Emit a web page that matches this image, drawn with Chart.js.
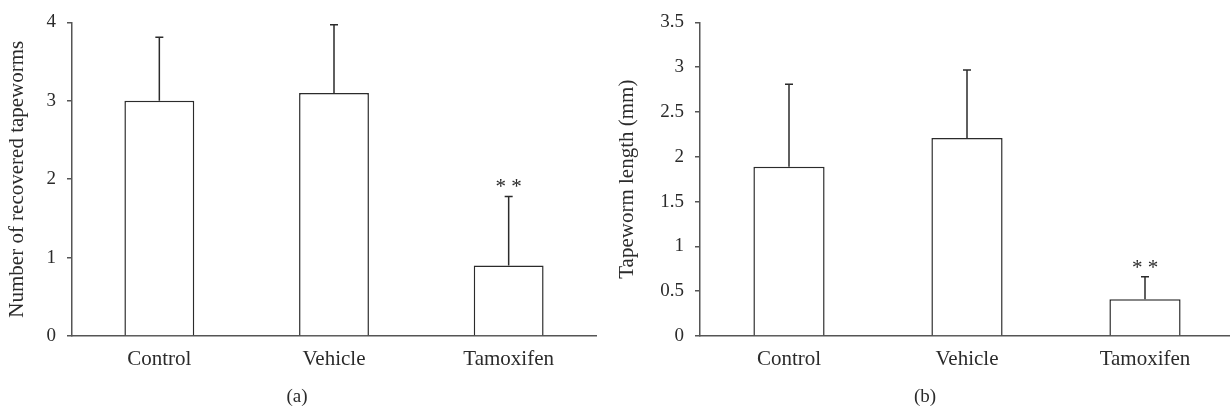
<!DOCTYPE html>
<html>
<head>
<meta charset="utf-8">
<script src="https://cdn.jsdelivr.net/npm/chart.js@4.4.1/dist/chart.umd.min.js"></script>
<style>
    html, body { margin: 0; padding: 0; background: #fff; overflow: hidden; width: 1230px; height: 410px; }
    canvas { position: absolute; top: 0; }
    #chartA { left: 0; }
    #chartB { left: 600px; }
    .caption { position: absolute; top: 385px; font: 19px 'Liberation Serif', serif; color: #2b2b2b; transform: translateX(-50%); }
</style>
</head>
<body>
<canvas id="chartA" width="600" height="410"></canvas>
<canvas id="chartB" width="640" height="410"></canvas>
<div class="caption" style="left:297px">(a)</div>
<div class="caption" style="left:925px">(b)</div>
<script>
// groups shared by both panels
const groups = ['Control', 'Vehicle', 'Tamoxifen'];

// (a) number of recovered tapeworms
const countMeans = [3.0, 3.1, 0.9];
const countSD = [0.81, 0.87, 0.88];
const countMarks = ['', '', '**'];

// (b) tapeworm length in mm
const lengthMeans = [1.89, 2.21, 0.41];
const lengthSD = [0.92, 0.76, 0.25];
const lengthMarks = ['', '', '**'];

const INK = '#2b2b2b';
const AXIS = '#555';
const FONT = "'Liberation Serif', 'Times New Roman', serif";

// draws upper error bars and significance marks over the bars
const errorBars = {
    id: 'errorBars',
    afterDatasetsDraw(chart, args, opts) {
        const { ctx, scales: { y } } = chart;
        const meta = chart.getDatasetMeta(0);
        ctx.save();
        ctx.strokeStyle = INK;
        ctx.lineWidth = 1.5;
        meta.data.forEach((bar, i) => {
            const top = y.getPixelForValue(opts.means[i] + opts.sd[i]);
            ctx.beginPath();
            ctx.moveTo(bar.x, bar.y);
            ctx.lineTo(bar.x, top);
            ctx.moveTo(bar.x - 4, top);
            ctx.lineTo(bar.x + 4, top);
            ctx.stroke();
            if (opts.marks[i]) {
                ctx.fillStyle = INK;
                ctx.font = '21px ' + FONT;
                ctx.textAlign = 'center';
                ctx.textBaseline = 'alphabetic';
                ctx.fillText(opts.marks[i].split('').join(' '), bar.x, top - 3);
            }
        });
        ctx.restore();
    }
};

function makePanel(canvasId, means, sd, marks, yMax, yStep, yTitle, axisWidth, titlePad, padding) {
    const ctx = document.getElementById(canvasId);
    return new Chart(ctx, {
        type: 'bar',
        data: {
            labels: groups,
            datasets: [{
                data: means,
                backgroundColor: '#fff',
                borderColor: INK,
                borderWidth: 1.5,
                barPercentage: 0.4,
                categoryPercentage: 1,
            }],
        },
        options: {
            responsive: false,
            animation: false,
            devicePixelRatio: 1,
            layout: { padding },
            plugins: {
                legend: { display: false },
                tooltip: { enabled: false },
                errorBars: { means, sd, marks },
            },
            scales: {
                x: {
                    grid: { display: false },
                    border: { display: true, color: AXIS, width: 1.5 },
                    ticks: { color: INK, font: { family: FONT, size: 21 }, padding: 3 },
                    afterFit(scale) { scale.height = 40; },
                },
                y: {
                    min: 0,
                    max: yMax,
                    ticks: {
                        stepSize: yStep,
                        color: INK,
                        font: { family: FONT, size: 19 },
                        padding: 11,
                        callback: v => String(v),
                    },
                    grid: { display: true, drawOnChartArea: false, drawTicks: true, tickLength: 5, color: AXIS, lineWidth: 1.5 },
                    border: { display: true, color: AXIS, width: 1.5 },
                    title: {
                        display: true,
                        text: yTitle,
                        color: INK,
                        font: { family: FONT, size: 21 },
                        padding: { top: titlePad, bottom: 0 },
                    },
                    afterFit(scale) { scale.width = axisWidth; },
                },
            },
        },
        plugins: [errorBars],
    });
}

makePanel('chartA', countMeans, countSD, countMarks, 4, 1,
    'Number of recovered tapeworms', 72, 5, { top: 16, right: 4, left: 0, bottom: 34 });
makePanel('chartB', lengthMeans, lengthSD, lengthMarks, 3.5, 0.5,
    'Tapeworm length (mm)', 100, 15, { top: 16, right: 6, left: 0, bottom: 34 });
</script>
</body>
</html>
